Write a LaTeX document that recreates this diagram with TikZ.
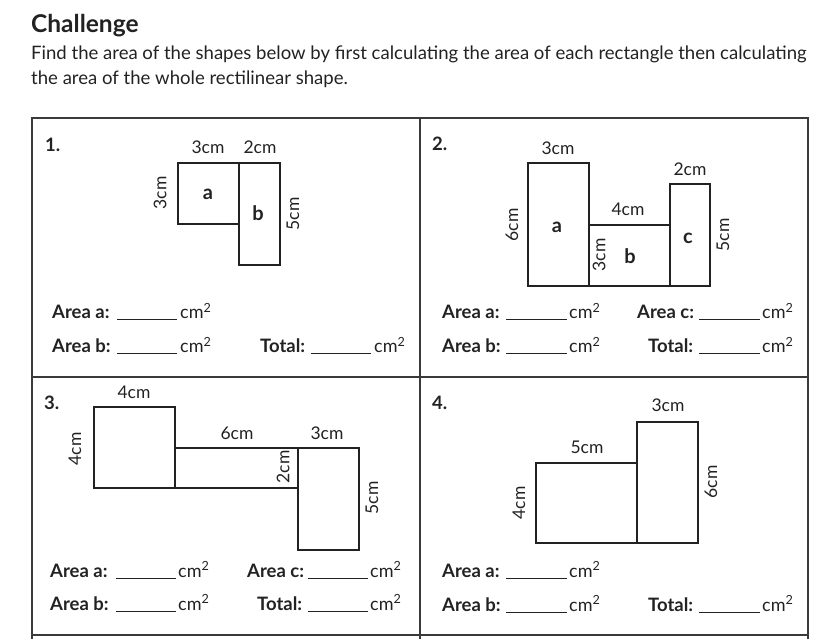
\documentclass[tikz,border=0pt]{standalone}
\usepackage{fontspec}
\setmainfont{Lato}
\definecolor{ink}{HTML}{222222}
\definecolor{gridc}{HTML}{3A3A3A}
\begin{document}
\begin{tikzpicture}[x=1pt,y=-1pt,
  dimlbl/.style={font=\fontsize{17.5}{20}\selectfont, text=ink, inner sep=0pt},
  partlbl/.style={font=\fontsize{20}{22}\selectfont\bfseries, text=ink, inner sep=0pt},
  numlbl/.style={font=\fontsize{18.5}{20}\selectfont\bfseries, text=ink, inner sep=0pt, anchor=base west},
  anslbl/.style={font=\fontsize{18.5}{20}\selectfont\bfseries, text=ink, inner sep=0pt, anchor=base west},
  unitlbl/.style={font=\fontsize{18}{20}\selectfont, text=ink, inner sep=0pt, anchor=base west},
  blank/.style={draw=ink, line width=1pt},
  shapeline/.style={draw=ink, line width=1.3pt},
  gridline/.style={draw=gridc, line width=1.8pt}]
\useasboundingbox (0,0) rectangle (828,639);
% header
\node[anchor=base west, inner sep=0pt, text=ink, font=\fontsize{24.5}{28}\selectfont\bfseries] (title) at (31,32.3) {Challenge};
\node[anchor=base west, inner sep=0pt, text=ink, font=\fontsize{18.55}{22}\selectfont] (intro1) at (31,59.3) {Find the area of the shapes below by first calculating the area of each rectangle then calculating};
\node[anchor=base west, inner sep=0pt, text=ink, font=\fontsize{18.55}{22}\selectfont] (intro2) at (31,85) {the area of the whole rectilinear shape.};
% table
\draw[gridline] (32,118) rectangle (808,635);
\draw[gridline] (420,118) -- (420,639);
\draw[gridline] (32,635) -- (32,639);
\draw[gridline] (808,635) -- (808,639);
\draw[gridline] (32,377) -- (808,377);
% ---------- 1 ----------
\node[numlbl] (n1) at (45,151.7) {1.};
\draw[shapeline] (178,163) rectangle (239,224);
\draw[shapeline] (239,163) rectangle (280,265);
\node[dimlbl] (q1t1) at (208,147) {3cm};
\node[dimlbl] (q1t2) at (260,147) {2cm};
\node[dimlbl, rotate=90] (q1l) at (160,193) {3cm};
\node[dimlbl, rotate=90] (q1r) at (293,214) {5cm};
\node[partlbl] (q1a) at (208,194) {a};
\node[partlbl] (q1b) at (258,213) {b};
\node[anslbl] (q1aa) at (52,319) {Area a:};
\draw[blank] (117,320) -- (177,320);
\node[unitlbl] (q1ua) at (180,319) {cm\textsuperscript{2}};
\node[anslbl] (q1ab) at (52,352.7) {Area b:};
\draw[blank] (117,353.5) -- (177,353.5);
\node[unitlbl] (q1ub) at (180,352.7) {cm\textsuperscript{2}};
\node[anslbl] (q1tot) at (260,352.7) {Total:};
\draw[blank] (311,353.5) -- (371,353.5);
\node[unitlbl] (q1ut) at (374,352.7) {cm\textsuperscript{2}};
% ---------- 2 ----------
\node[numlbl] (n2) at (432,151) {2.};
\draw[shapeline] (528,163) rectangle (589,286);
\draw[shapeline] (589,225) rectangle (670,286);
\draw[shapeline] (670,184) rectangle (710,286);
\node[dimlbl] (q2t1) at (558,148) {3cm};
\node[dimlbl] (q2t2) at (690,169) {2cm};
\node[dimlbl] (q2t3) at (628,209) {4cm};
\node[dimlbl, rotate=90] (q2l) at (512,225) {6cm};
\node[dimlbl, rotate=90] (q2m) at (599,255) {3cm};
\node[dimlbl, rotate=90] (q2r) at (723,235) {5cm};
\node[partlbl] (q2a) at (557,227) {a};
\node[partlbl] (q2b) at (630,256) {b};
\node[partlbl] (q2c) at (688,238) {c};
\node[anslbl] (q2aa) at (442,319) {Area a:};
\draw[blank] (506,320) -- (567,320);
\node[unitlbl] (q2ua) at (569,319) {cm\textsuperscript{2}};
\node[anslbl] (q2ac) at (637,319) {Area c:};
\draw[blank] (699,320) -- (760,320);
\node[unitlbl] (q2uc) at (762,319) {cm\textsuperscript{2}};
\node[anslbl] (q2ab) at (442,352.7) {Area b:};
\draw[blank] (506,353.5) -- (567,353.5);
\node[unitlbl] (q2ub) at (569,352.7) {cm\textsuperscript{2}};
\node[anslbl] (q2tot) at (648,352.7) {Total:};
\draw[blank] (699,353.5) -- (760,353.5);
\node[unitlbl] (q2ut) at (762,352.7) {cm\textsuperscript{2}};
% ---------- 3 ----------
\node[numlbl] (n3) at (44,409.3) {3.};
\draw[shapeline] (94,407) rectangle (175,488);
\draw[shapeline] (175,448) rectangle (298,488);
\draw[shapeline] (298,448) rectangle (359,550);
\node[dimlbl] (q3t1) at (134,392) {4cm};
\node[dimlbl] (q3t2) at (237,433) {6cm};
\node[dimlbl] (q3t3) at (327,433) {3cm};
\node[dimlbl, rotate=90] (q3l) at (75,449) {4cm};
\node[dimlbl, rotate=90] (q3m) at (283,467) {2cm};
\node[dimlbl, rotate=90] (q3r) at (372,498) {5cm};
\node[anslbl] (q3aa) at (50,577) {Area a:};
\draw[blank] (116,578) -- (176,578);
\node[unitlbl] (q3ua) at (178,577) {cm\textsuperscript{2}};
\node[anslbl] (q3ac) at (247,577) {Area c:};
\draw[blank] (308,578) -- (368,578);
\node[unitlbl] (q3uc) at (370,577) {cm\textsuperscript{2}};
\node[anslbl] (q3ab) at (50,610) {Area b:};
\draw[blank] (116,611) -- (176,611);
\node[unitlbl] (q3ub) at (178,610) {cm\textsuperscript{2}};
\node[anslbl] (q3tot) at (257,610) {Total:};
\draw[blank] (308,611) -- (368,611);
\node[unitlbl] (q3ut) at (370,610) {cm\textsuperscript{2}};
% ---------- 4 ----------
\node[numlbl] (n4) at (432,409) {4.};
\draw[shapeline] (536,463) rectangle (637,543);
\draw[shapeline] (637,422) rectangle (698,543);
\node[dimlbl] (q4t1) at (668,405) {3cm};
\node[dimlbl] (q4t2) at (587,447) {5cm};
\node[dimlbl, rotate=90] (q4l) at (519,503) {4cm};
\node[dimlbl, rotate=90] (q4r) at (711,482) {6cm};
\node[anslbl] (q4aa) at (442,577) {Area a:};
\draw[blank] (506,578) -- (567,578);
\node[unitlbl] (q4ua) at (569,577) {cm\textsuperscript{2}};
\node[anslbl] (q4ab) at (442,611) {Area b:};
\draw[blank] (506,612) -- (567,612);
\node[unitlbl] (q4ub) at (569,611) {cm\textsuperscript{2}};
\node[anslbl] (q4tot) at (648,611) {Total:};
\draw[blank] (699,612) -- (760,612);
\node[unitlbl] (q4ut) at (762,611) {cm\textsuperscript{2}};
\end{tikzpicture}
\end{document}
